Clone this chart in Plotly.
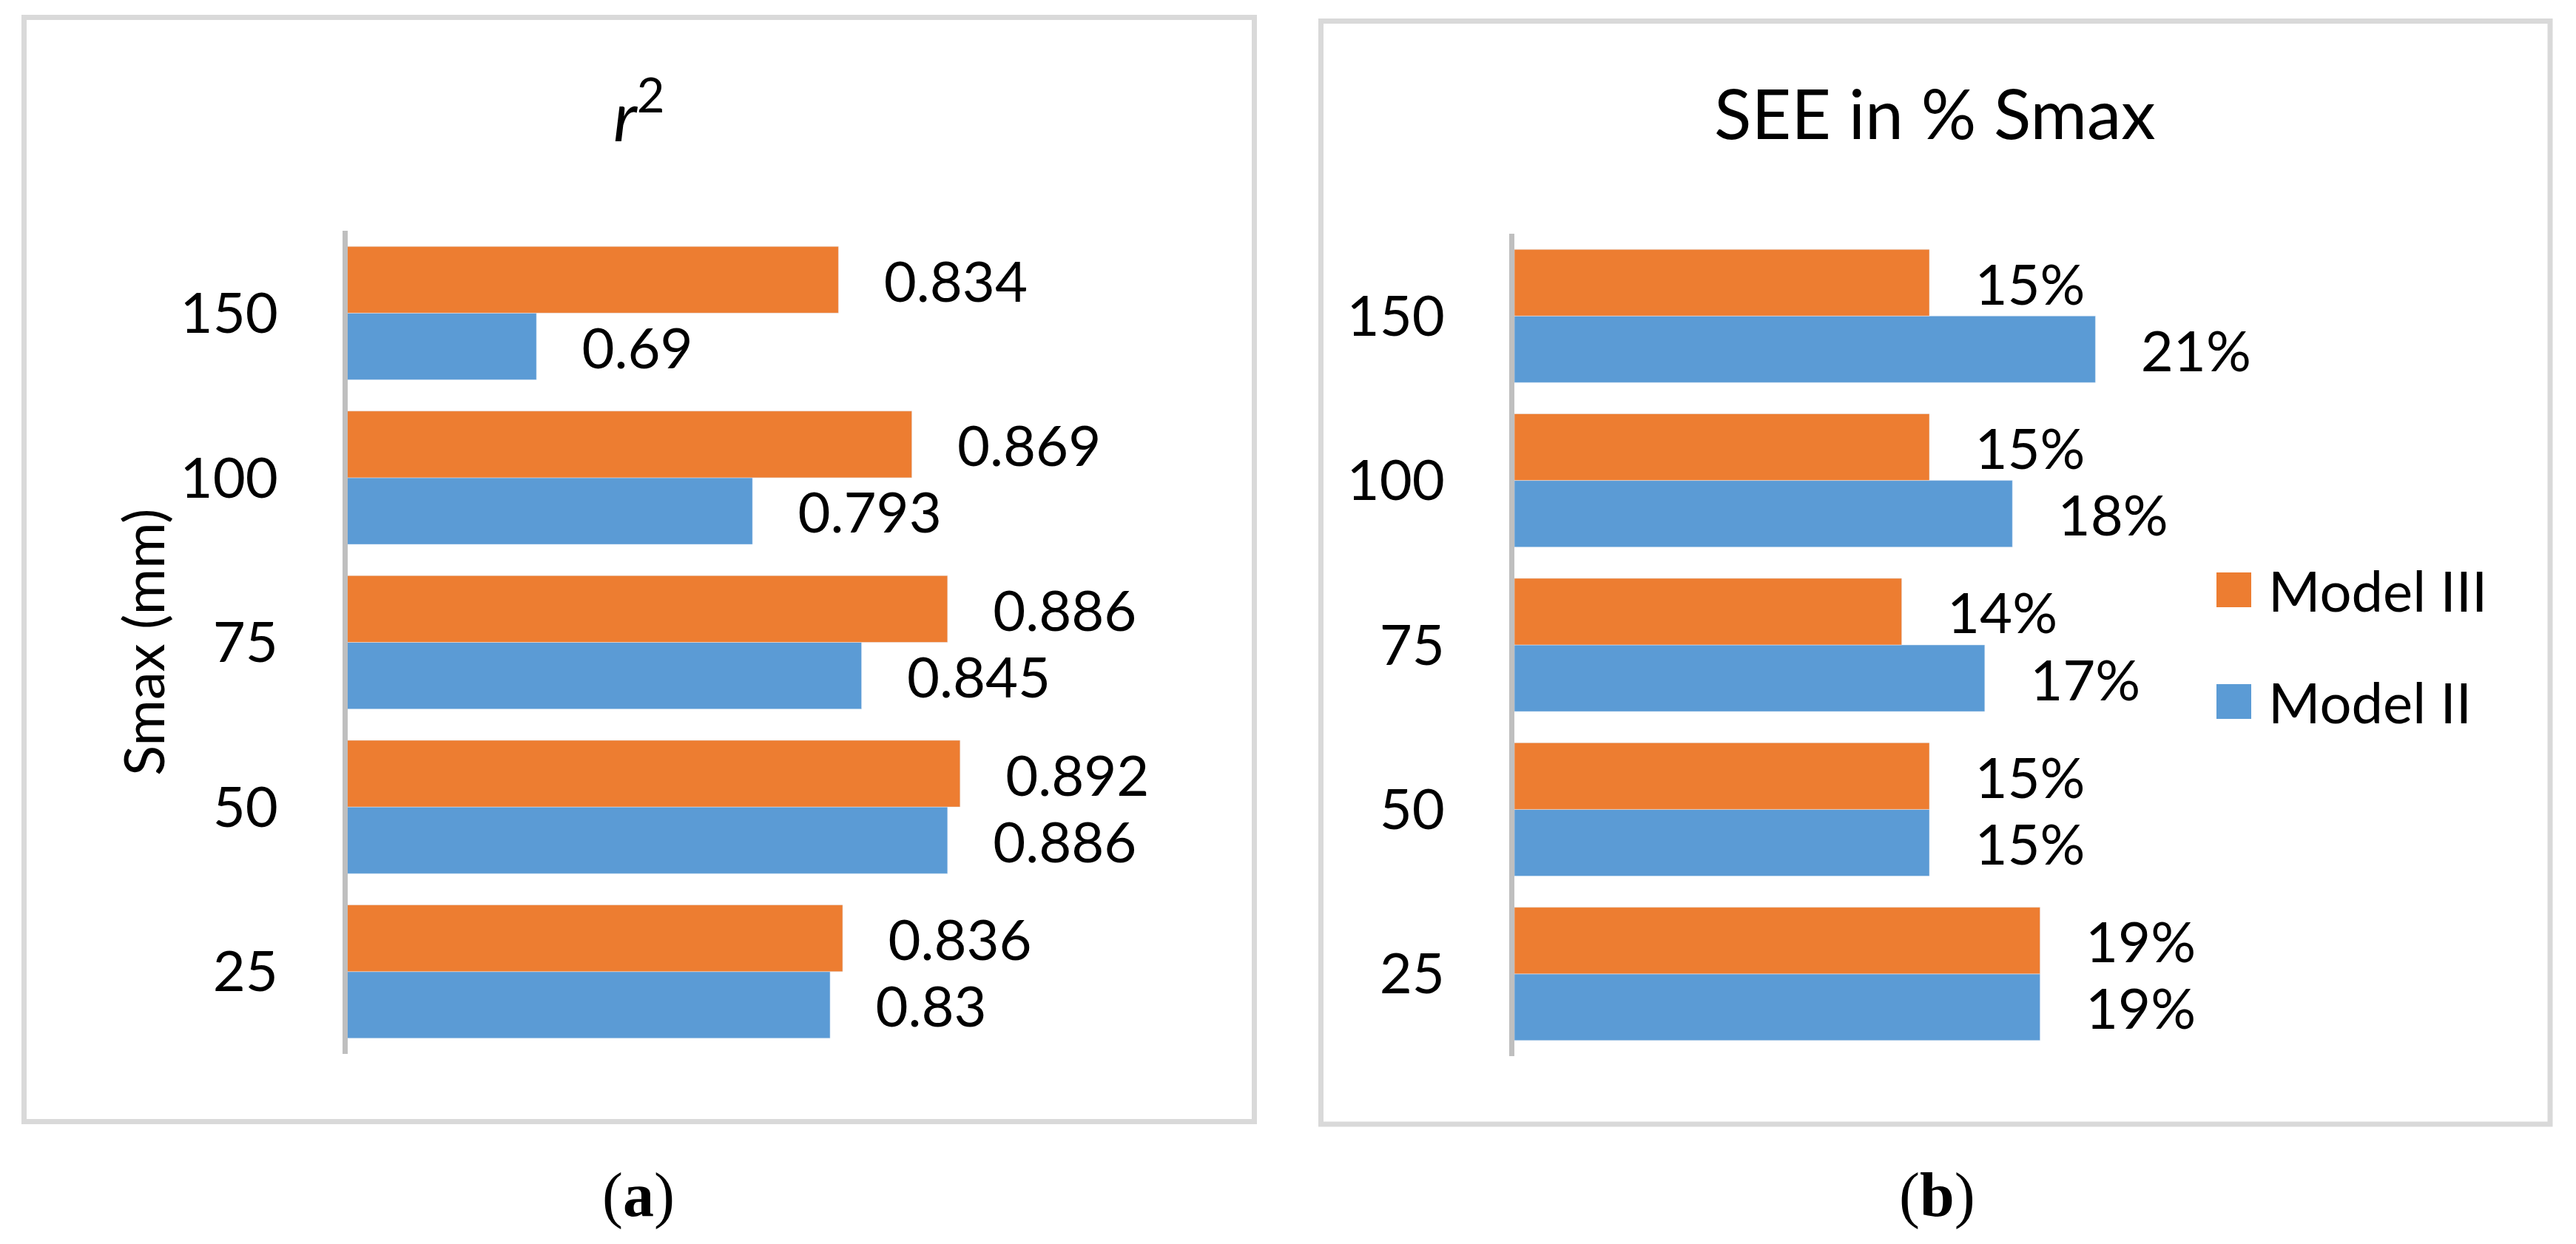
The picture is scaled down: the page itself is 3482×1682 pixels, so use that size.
import plotly.graph_objects as go

# ---------------- data ----------------
smax = ["25", "50", "75", "100", "150"]
series_names = ["Model II", "Model III"]
r2_model2 = [0.83, 0.886, 0.845, 0.793, 0.69]
r2_model3 = [0.836, 0.892, 0.886, 0.869, 0.834]
see_model2 = [0.19, 0.15, 0.17, 0.18, 0.21]
see_model3 = [0.19, 0.15, 0.14, 0.15, 0.15]
titles = ["<i>r</i><sup>2</sup>", "SEE in % Smax"]
captions = ["(<b>a</b>)", "(<b>b</b>)"]
y_title = "Smax (mm)"

# ---------------- style ----------------
W, H = 3482, 1682
ORANGE = "#ED7D31"
BLUE = "#5B9BD5"
FONT = "Lato"
FS = 76
BORDER = "#D9D9D9"
AXIS = "#BFBFBF"
PAD = "\u00a0\u00a0\u00a0"


def px(x):
    return x / W


def py(y):
    return 1 - y / H


fig = go.Figure()

common = dict(orientation="h", textposition="outside", constraintext="none",
              textfont=dict(family=FONT, size=FS, color="black"),
              showlegend=False, hoverinfo="x+y")

fig.add_trace(go.Bar(y=smax, x=r2_model2, name=series_names[0], marker_color=BLUE,
                     texttemplate=PAD + "%{x}", xaxis="x", yaxis="y", **common))
fig.add_trace(go.Bar(y=smax, x=r2_model3, name=series_names[1], marker_color=ORANGE,
                     texttemplate=PAD + "%{x}", xaxis="x", yaxis="y", **common))
fig.add_trace(go.Bar(y=smax, x=see_model2, name=series_names[0], marker_color=BLUE,
                     texttemplate=PAD + "%{x:.0%}", xaxis="x2", yaxis="y2", **common))
fig.add_trace(go.Bar(y=smax, x=see_model3, name=series_names[1], marker_color=ORANGE,
                     texttemplate=PAD + "%{x:.0%}", xaxis="x2", yaxis="y2", **common))

xcommon = dict(showline=False, showgrid=False, zeroline=False, showticklabels=False,
               ticks="", fixedrange=True)
ycommon = dict(type="category", categoryorder="array", categoryarray=smax,
               showline=True, linecolor=AXIS, linewidth=7, showgrid=False,
               zeroline=False, ticks="", ticklabelstandoff=72,
               tickfont=dict(family=FONT, size=FS, color="black"), fixedrange=True)

fig.update_layout(
    width=W, height=H,
    margin=dict(l=0, r=0, t=0, b=0),
    paper_bgcolor="white", plot_bgcolor="white",
    barmode="group", bargap=0.19, bargroupgap=0,
    showlegend=False,
    font=dict(family=FONT, size=FS, color="black"),
    xaxis=dict(domain=[px(470), px(1604)], range=[0.6, 1.0], anchor="y", **xcommon),
    yaxis=dict(domain=[py(1425), py(312)], anchor="x", **ycommon),
    xaxis2=dict(domain=[px(2047), px(3169)], range=[0, 0.3], anchor="y2", **xcommon),
    yaxis2=dict(domain=[py(1428), py(316)], anchor="x2", **ycommon),
)

# panel borders
shapes = [
    dict(type="rect", xref="paper", yref="paper", x0=px(32.5), x1=px(1695.5),
         y0=py(1516.5), y1=py(23.5), line=dict(color=BORDER, width=7), layer="below"),
    dict(type="rect", xref="paper", yref="paper", x0=px(1785.5), x1=px(3447),
         y0=py(1520), y1=py(28.5), line=dict(color=BORDER, width=7), layer="below"),
]

# custom legend (right panel): Model III above Model II
legend_items = [(series_names[1], ORANGE, 774), (series_names[0], BLUE, 925)]
annotations = []
for name, col, top in legend_items:
    shapes.append(dict(type="rect", xref="paper", yref="paper", x0=px(2996), x1=px(3043),
                       y0=py(top + 47), y1=py(top), fillcolor=col, line=dict(width=0)))
    annotations.append(dict(text=name, xref="paper", yref="paper", x=px(3064), y=py(top + 23.5),
                            xanchor="left", yanchor="middle", showarrow=False,
                            font=dict(family=FONT, size=FS, color="black")))

# chart titles
annotations.append(dict(text=titles[0], xref="paper", yref="paper", x=px(864), y=py(150),
                        xanchor="center", yanchor="middle", showarrow=False,
                        font=dict(family=FONT, size=93, color="black")))
annotations.append(dict(text=titles[1], xref="paper", yref="paper", x=px(2615), y=py(152),
                        xanchor="center", yanchor="middle", showarrow=False,
                        font=dict(family=FONT, size=93, color="black")))
# y-axis title
annotations.append(dict(text=y_title, xref="paper", yref="paper", x=px(192), y=py(868),
                        xanchor="center", yanchor="middle", textangle=-90, showarrow=False,
                        font=dict(family=FONT, size=FS, color="black")))
# captions
annotations.append(dict(text=captions[0], xref="paper", yref="paper", x=px(863), y=py(1616),
                        xanchor="center", yanchor="middle", showarrow=False,
                        font=dict(family="Liberation Serif", size=84, color="black")))
annotations.append(dict(text=captions[1], xref="paper", yref="paper", x=px(2618), y=py(1616),
                        xanchor="center", yanchor="middle", showarrow=False,
                        font=dict(family="Liberation Serif", size=84, color="black")))

fig.update_layout(shapes=shapes, annotations=annotations)

fig.write_html("out.html", config={"displayModeBar": False},
               post_script="document.body.style.margin='0';document.body.style.overflow='hidden';")
